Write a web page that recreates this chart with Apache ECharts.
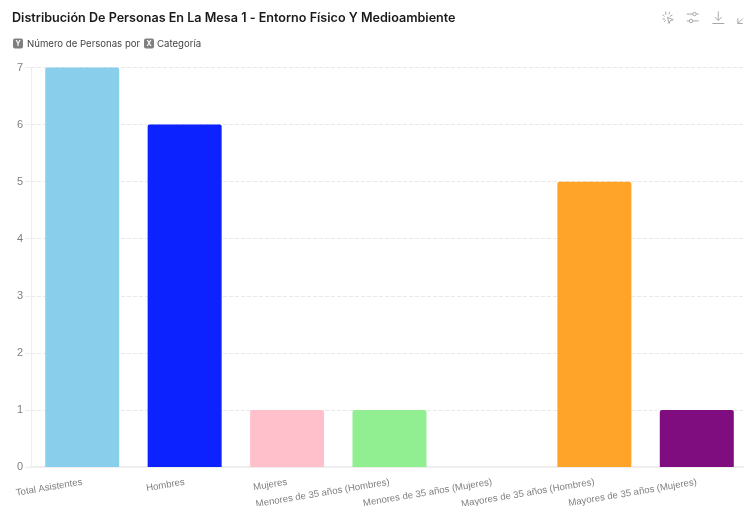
<!DOCTYPE html>
<html><head><meta charset="utf-8">
<style>html,body{margin:0;padding:0;background:#fff}#c{width:744px;height:506px}</style>
<script src="https://cdn.jsdelivr.net/npm/echarts@6/dist/echarts.min.js"></script>
</head><body><div id="c"></div>
<script>
const titleText = 'Distribución De Personas En La Mesa 1 - Entorno Físico Y Medioambiente';
const yName = 'Número de Personas por';
const xName = 'Categoría';
const categories = ['Total Asistentes','Hombres','Mujeres','Menores de 35 años (Hombres)','Menores de 35 años (Mujeres)','Mayores de 35 años (Hombres)','Mayores de 35 años (Mujeres)'];
const values = [7,6,1,1,0,5,1];
const barColors = ['#89CFEB','#0C22FF','#FFC0CB','#91EE91','#D0D0D0','#FFA329','#800D80'];
const iconColor = '#a8a8a8';
const icons = [
 'path://M5 1V5M1 5L3.5 7M1 10H4M3 13.5L5 11.5M10 1.5L8.5 4.5M13 5L10 7M7 8L14 11L10.5 12L9 15.5Z',
 'path://M1 4H8M12 4H15M8 4a2 2 0 1 0 4 0a2 2 0 1 0-4 0M1 12H4M8 12H15M4 12a2 2 0 1 0 4 0a2 2 0 1 0-4 0',
 'path://M8 1V11M4 7.5L8 11.5L12 7.5M1 15H15',
 'path://M2 14L7 9M2 9V14H7M9 7L14 2M9 2H14V7'
];
const chart = echarts.init(document.getElementById('c'));
const font = 'Inter, "Liberation Sans", sans-serif';
const badge = (x, t) => ({type:'group',x:x,y:38.5,children:[
  {type:'rect',shape:{x:0,y:0,width:10,height:10,r:2},style:{fill:'#7f7f7f'}},
  {type:'text',style:{x:5,y:5.5,text:t,fill:'#fff',font:'bold 7px '+font,textAlign:'center',textVerticalAlign:'middle'}}
]});
const feature = {};
icons.forEach((d,i)=>{ feature['my'+i] = {show:true,title:'',icon:d,onclick:function(){}}; });
chart.setOption({
  animation:false,
  backgroundColor:'#fff',
  title:{text:titleText,left:12,top:10,padding:0,textStyle:{fontFamily:font,fontSize:12.6,fontWeight:600,color:'#1a1a1a',lineHeight:16}},
  grid:{left:31,top:67.5,width:717,height:399.5,containLabel:false,outerBoundsMode:'none'},
  toolbox:{show:true,left:660,top:9,width:120,height:20,padding:0,itemSize:12,itemGap:8.5,feature:feature,
    iconStyle:{color:'none',borderColor:iconColor,borderWidth:1}},
  xAxis:{type:'category',data:categories,
    axisLine:{show:true,lineStyle:{color:'#eeeeee',width:2}},
    axisTick:{show:false},
    axisLabel:{interval:0,rotate:9.5,margin:15,color:'#808080',fontFamily:'"Liberation Sans", sans-serif',fontSize:9.6,hideOverlap:false}},
  yAxis:{type:'value',min:0,max:7,interval:1,
    axisLine:{show:true,lineStyle:{color:'#eeeeee',width:1}},
    axisTick:{show:true,length:6,lineStyle:{color:'#eeeeee'}},
    axisLabel:{margin:8,color:'#808080',fontFamily:'"Liberation Sans", sans-serif',fontSize:11},
    splitLine:{show:true,lineStyle:{color:'#e9e9e9',type:'dashed',width:1}}},
  series:[{type:'bar',barWidth:74,
    data:values.map((v,i)=>({value:v,itemStyle:{color:barColors[i],borderRadius:[2,2,0,0]}}))}],
  graphic:[
    badge(13,'Y'),
    {type:'text',x:27,y:39,style:{text:yName,fill:'#444',font:'9.6px '+font}},
    badge(144,'X'),
    {type:'text',x:157,y:39,style:{text:xName,fill:'#444',font:'9.6px '+font}}
  ]
});
</script></body></html>
